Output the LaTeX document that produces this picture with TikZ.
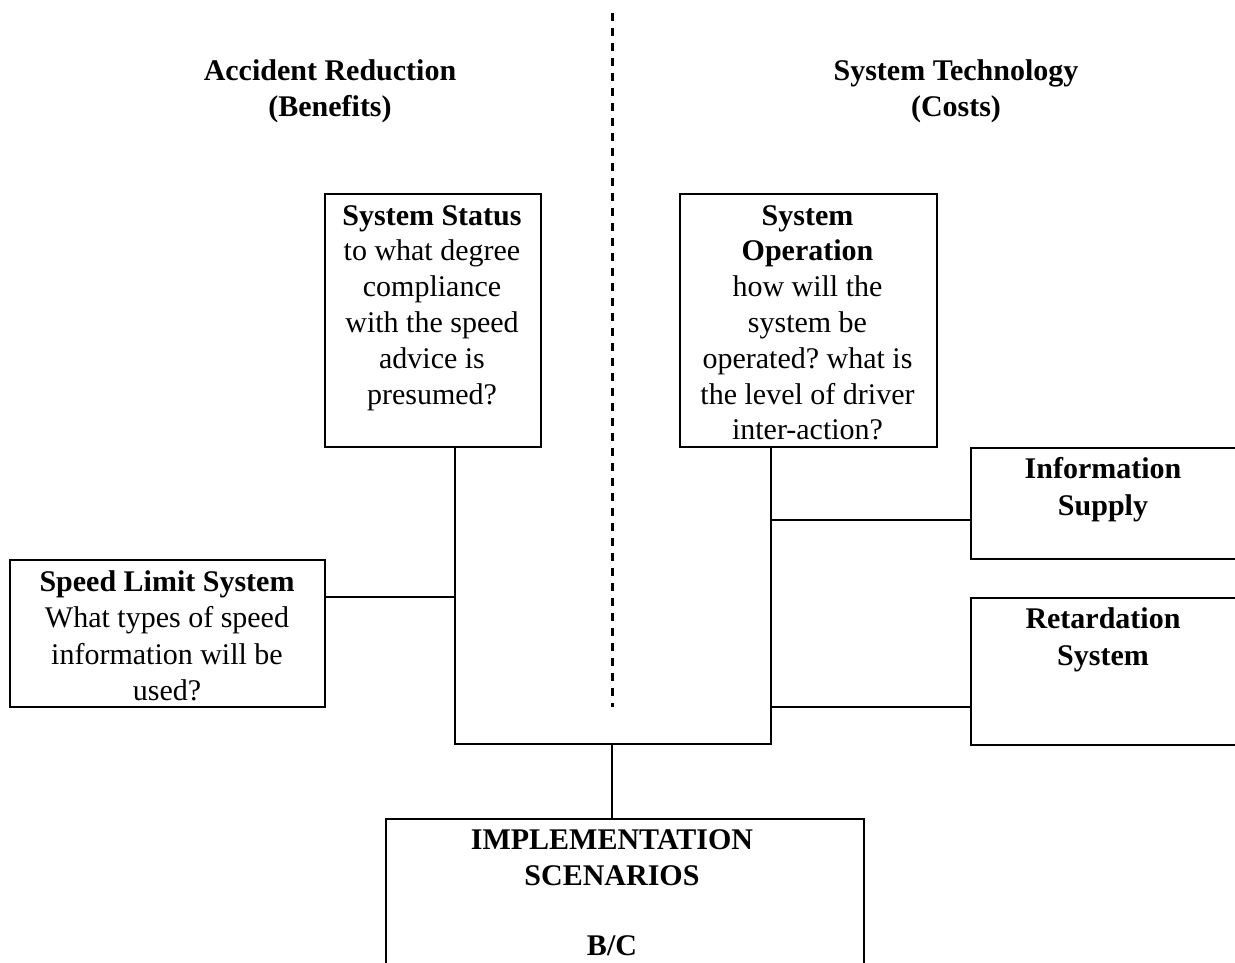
\documentclass[tikz,border=0pt]{standalone}
\usepackage{fontspec}
\setmainfont{Liberation Serif}
\frenchspacing
\begin{document}
\begin{tikzpicture}[x=1pt,y=-1pt,
  box/.style={draw,line width=2pt,inner sep=0pt,anchor=north west},
  txt/.style={anchor=north,inner sep=0pt,align=center,font=\fontsize{30}{36.5}\selectfont},
  tight/.style={font=\fontsize{30}{35.8}\selectfont},
  link/.style={line width=2pt}]
\path[use as bounding box] (0,0) rectangle (1235,962);
\clip (0,0) rectangle (1235,962);
% headers
\node[txt,tight] (hl) at (330,59.5) {\textbf{Accident Reduction}\\\textbf{(Benefits)}};
\node[txt,tight] (hr) at (956,59.5) {\textbf{System Technology}\\\textbf{(Costs)}};
% divider
\coordinate (dt) at (612,13);
\coordinate (db) at (612,707);
\draw[line width=3pt,dash pattern=on 8pt off 7pt] (dt) -- (db);
% boxes
\node[box,minimum width=216,minimum height=253] (ss) at (324,193) {};
\node[box,minimum width=257,minimum height=253] (op) at (679,193) {};
\node[box,minimum width=280,minimum height=111] (is) at (970,447) {};
\node[box,minimum width=280,minimum height=147] (rs) at (970,597) {};
\node[box,minimum width=315,minimum height=147] (sl) at (9,559) {};
\node[box,minimum width=478,minimum height=200] (im) at (385,818) {};
% texts
\node[txt,tight] (sst) at (432,205) {\textbf{System Status}\\to what degree\\compliance\\with the speed\\advice is\\presumed?};
\node[txt,tight] (opt) at (807.5,205) {\textbf{System}\\\textbf{Operation}\\how will the\\system be\\operated? what is\\the level of driver\\inter-action?};
\node[txt] (ist) at (1103,457.5) {\textbf{Information}\\\textbf{Supply}};
\node[txt] (rst) at (1103,607.5) {\textbf{Retardation}\\\textbf{System}};
\node[txt] (slt) at (167,570) {\textbf{Speed Limit System}\\What types of speed\\information will be\\used?};
\node[txt] (imt) at (612,829) {\textbf{IMPLEMENTATION}\\\textbf{SCENARIOS}\\[33pt]\textbf{B/C}};
% connectors
\coordinate (bj) at (455,744);
\coordinate (oj) at (771,744);
\coordinate (mj) at (612,744);
\coordinate (sj) at (455,597);
\coordinate (ij) at (771,520);
\coordinate (rj) at (771,707);
\draw[link] (ss.south -| bj) -- (bj) -- (oj) -- (op.south -| oj);
\draw[link] (sl.east |- sj) -- (sj);
\draw[link] (ij) -- (is.west |- ij);
\draw[link] (rj) -- (rs.west |- rj);
\draw[link] (mj) -- (im.north -| mj);
\end{tikzpicture}
\end{document}
